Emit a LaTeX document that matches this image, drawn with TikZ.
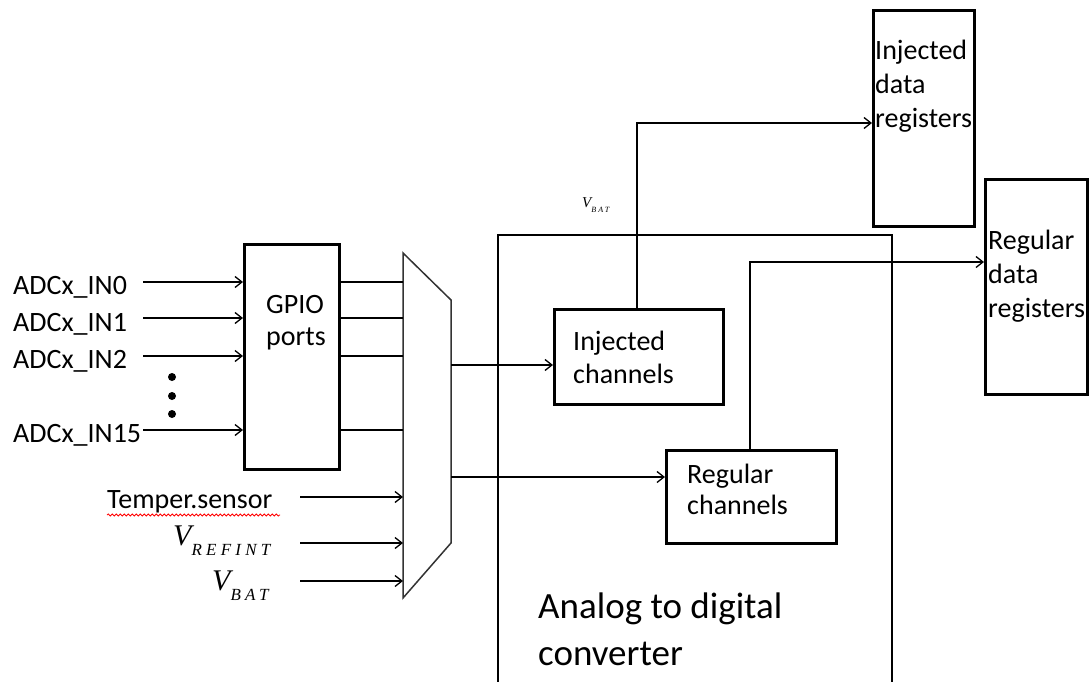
\documentclass[tikz,border=0pt]{standalone}
\usepackage{fontspec}
\setmainfont{Carlito}
\newfontfamily\vfont{Liberation Serif}
\newfontfamily\vsubfont[LetterSpace=25]{Liberation Serif}
\usetikzlibrary{arrows.meta,decorations.pathmorphing}
\begin{document}
\begin{tikzpicture}[x=1pt,y=-1pt,
  box/.style={draw, line width=2.6pt, inner sep=0pt, anchor=north west},
  lbl/.style={font=\fontsize{28}{33}\selectfont, inner sep=0pt, anchor=base west},
  big/.style={font=\fontsize{37}{44}\selectfont, inner sep=0pt, anchor=base west},
  ln/.style={line width=1.3pt},
  arr/.style={line width=1.3pt, -{Straight Barb[length=7pt,width=11pt,line width=1.3pt]}},
  thin/.style={line width=1.5pt},
  dotnode/.style={circle, fill, inner sep=0pt, minimum size=8pt}]
\useasboundingbox (0,0) rectangle (1089,682);

% boxes
\node[box, minimum width=95pt, minimum height=225pt] (gpio) at (243,243) {};
\node[box, minimum width=169pt, minimum height=95pt] (injc) at (553,308) {};
\node[box, minimum width=170pt, minimum height=93pt] (regc) at (665,449) {};
\node[box, minimum width=101pt, minimum height=216pt] (injd) at (872,9) {};
\node[box, minimum width=102pt, minimum height=215pt] (regd) at (984,178) {};

% ADC outline (open at bottom)
\coordinate (adcbl) at (498,686);
\coordinate (adctl) at (498,235);
\coordinate (adctr) at (892,235);
\coordinate (adcbr) at (892,686);
\draw[thin] (adcbl) -- (adctl) -- (adctr) -- (adcbr);

% multiplexer
\coordinate (mA) at (403,253);
\coordinate (mB) at (451,300);
\coordinate (mC) at (451,543);
\coordinate (mD) at (403,598);
\draw[thin, draw=black!80] (mA) -- (mB) -- (mC) -- (mD) -- cycle;

% texts
\node[lbl] (in0) at (13,294) {ADCx\_IN0};
\node[lbl] (in1) at (13,331) {ADCx\_IN1};
\node[lbl] (in2) at (13,368) {ADCx\_IN2};
\node[lbl] (in15) at (13,442) {ADCx\_IN15};
\node[dotnode] (d1) at (172,377) {};
\node[dotnode] (d2) at (172,396) {};
\node[dotnode] (d3) at (172,414) {};

\node[lbl] (gt1) at (266,313) {GPIO};
\node[lbl] (gt2) at (266,345) {ports};

\node[lbl] (temp) at (107,508) {Temper.sensor};
\node[inner sep=0pt, anchor=base west] (vref) at (173,545)
  {{\vfont\itshape\fontsize{30}{30}\selectfont V}\raisebox{-10pt}{\vsubfont\itshape\fontsize{17}{17}\selectfont REFINT}};
\node[inner sep=0pt, anchor=base west] (vbat) at (212,590)
  {{\vfont\itshape\fontsize{30}{30}\selectfont V}\raisebox{-10pt}{\vsubfont\itshape\fontsize{17}{17}\selectfont BAT}};
\node[inner sep=0pt, anchor=base west] (vbat2) at (582,207)
  {{\vfont\itshape\fontsize{15}{15}\selectfont V}\raisebox{-5pt}{\vsubfont\itshape\fontsize{8}{8}\selectfont BAT}};

\node[lbl] (it1) at (573,350) {Injected};
\node[lbl] (it2) at (573,383) {channels};
\node[lbl] (rt1) at (687,483) {Regular};
\node[lbl] (rt2) at (687,514) {channels};

\node[lbl] (idt1) at (875,60) {Injected};
\node[lbl] (idt2) at (875,94) {data};
\node[lbl] (idt3) at (875,128) {registers};
\node[lbl] (rdt1) at (988,249) {Regular};
\node[lbl] (rdt2) at (988,283) {data};
\node[lbl] (rdt3) at (988,317) {registers};

\node[big] (adct1) at (538,618) {Analog to digital};
\node[big] (adct2) at (538,665) {converter};

% red wavy underline
\coordinate (w1) at (107,515);
\coordinate (w2) at (280,515);
\draw[red, line width=0.8pt, decorate, decoration={snake, amplitude=1pt, segment length=4pt}] (w1) -- (w2);

% input arrows to GPIO
\coordinate (s0) at (143,282);
\coordinate (s1) at (143,318);
\coordinate (s2) at (143,356);
\coordinate (s3) at (143,430);
\foreach \s in {s0,s1,s2,s3}{
  \draw[arr] (\s) -- (gpio.west |- \s);
  \draw[ln] (gpio.east |- \s) -- (mA |- \s);
}

% analog inputs to mux
\coordinate (t0) at (300,497);
\coordinate (t1) at (300,543);
\coordinate (t2) at (300,581);
\foreach \t in {t0,t1,t2}{
  \draw[arr] (\t) -- (mA |- \t);
}

% mux outputs
\coordinate (o1) at (451,365);
\coordinate (o2) at (451,477);
\draw[arr] (o1) -- (injc.west |- o1);
\draw[arr] (o2) -- (regc.west |- o2);

% channels to data registers
\coordinate (u1) at (637,123);
\coordinate (u2) at (750,262);
\draw[arr] (injc.north -| u1) -- (u1) -- (injd.west |- u1);
\draw[arr] (regc.north -| u2) -- (u2) -- (regd.west |- u2);
\end{tikzpicture}
\end{document}
